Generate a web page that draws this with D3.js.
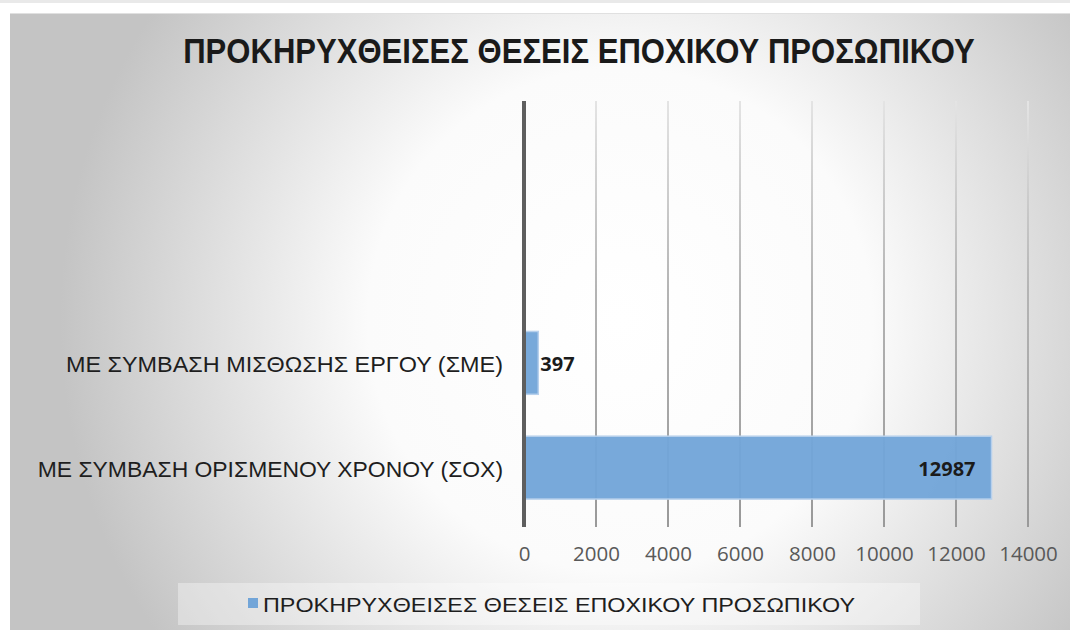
<!DOCTYPE html>
<html>
<head>
<meta charset="utf-8">
<script src="https://cdn.jsdelivr.net/npm/d3@7"></script>
<style>
  body { margin: 0; background: #fff; }
  svg { display: block; }
</style>
</head>
<body>
<script>
// chart data
var chartTitle = "ΠΡΟΚΗΡΥΧΘΕΙΣΕΣ ΘΕΣΕΙΣ ΕΠΟΧΙΚΟΥ ΠΡΟΣΩΠΙΚΟΥ";
var seriesName = "ΠΡΟΚΗΡΥΧΘΕΙΣΕΣ ΘΕΣΕΙΣ ΕΠΟΧΙΚΟΥ ΠΡΟΣΩΠΙΚΟΥ";
// two blank rows sit at the top of the category axis in the original
var categories = ["", " ", "ΜΕ ΣΥΜΒΑΣΗ ΜΙΣΘΩΣΗΣ ΕΡΓΟΥ (ΣΜΕ)", "ΜΕ ΣΥΜΒΑΣΗ ΟΡΙΣΜΕΝΟΥ ΧΡΟΝΟΥ (ΣΟΧ)"];
var values = [null, null, 397, 12987];
var tickValues = [0, 2000, 4000, 6000, 8000, 10000, 12000, 14000];

var width = 1070, height = 630;
var plotLeft = 524, plotRight = 1028, plotTop = 101, plotBottom = 520;
var barColor = "#72a5d8";

var svg = d3.select("body").append("svg")
  .attr("width", width)
  .attr("height", height);

var defs = svg.append("defs");
var bg = defs.append("radialGradient")
  .attr("id", "bgGrad")
  .attr("gradientUnits", "userSpaceOnUse")
  .attr("cx", 620).attr("cy", 320).attr("r", 560);
bg.append("stop").attr("offset", "0%").attr("stop-color", "#ffffff");
bg.append("stop").attr("offset", "45%").attr("stop-color", "#fbfbfb");
bg.append("stop").attr("offset", "100%").attr("stop-color", "#c4c4c4");

var gridGrad = defs.append("linearGradient")
  .attr("id", "gridGrad")
  .attr("gradientUnits", "userSpaceOnUse")
  .attr("x1", 0).attr("y1", plotTop).attr("x2", 0).attr("y2", plotBottom);
gridGrad.append("stop").attr("offset", "0%").attr("stop-color", "#e4e4e4");
gridGrad.append("stop").attr("offset", "45%").attr("stop-color", "#b4b4b4");
gridGrad.append("stop").attr("offset", "100%").attr("stop-color", "#9a9a9a");

// page top strip
svg.append("rect").attr("x", 0).attr("y", 0).attr("width", width).attr("height", 3).attr("fill", "#e9e9e9");

// chart area
svg.append("rect")
  .attr("x", 10).attr("y", 13)
  .attr("width", width - 10).attr("height", height - 13)
  .attr("fill", "url(#bgGrad)");
svg.append("line")
  .attr("x1", 10).attr("x2", width).attr("y1", 13.5).attr("y2", 13.5)
  .attr("stroke", "#e0e0e0");

var x = d3.scaleLinear().domain([0, 14000]).range([plotLeft, plotRight]);
var y = d3.scaleBand().domain(categories).range([plotTop, plotBottom]).paddingInner(0.4).paddingOuter(0.2);

// gridlines
svg.append("g")
  .selectAll("line")
  .data(tickValues.slice(1))
  .enter().append("line")
  .attr("x1", d => x(d)).attr("x2", d => x(d))
  .attr("y1", plotTop).attr("y2", plotBottom + 7)
  .attr("stroke", "url(#gridGrad)")
  .attr("stroke-width", 2);

// bars
var barData = categories.map((c, i) => ({ cat: c, val: values[i] })).filter(d => d.val != null);
svg.append("g")
  .selectAll("rect")
  .data(barData)
  .enter().append("rect")
  .attr("x", x(0))
  .attr("y", d => y(d.cat))
  .attr("width", d => x(d.val) - x(0))
  .attr("height", y.bandwidth())
  .attr("fill", barColor)
  .attr("fill-opacity", 0.96)
  .attr("stroke", "#b7d0ec")
  .attr("stroke-width", 1.5);

// zero axis line
svg.append("line")
  .attr("x1", x(0)).attr("x2", x(0))
  .attr("y1", plotTop).attr("y2", plotBottom + 7)
  .attr("stroke", "#5e5e5e")
  .attr("stroke-width", 4);

// x axis labels
var xAxis = d3.axisBottom(x).tickValues(tickValues).tickSize(0).tickPadding(0).tickFormat(d3.format("d"));
var xg = svg.append("g").attr("transform", "translate(0," + (plotBottom + 34) + ")").call(xAxis);
xg.select(".domain").remove();
xg.selectAll("text")
  .attr("font-family", "'Open Sans', 'Noto Sans', sans-serif")
  .attr("font-size", 20.5)
  .attr("fill", "#595959")
  .attr("dy", "0.36em");

// category labels
var yAxis = d3.axisLeft(y).tickSize(0).tickPadding(21);
var yg = svg.append("g").attr("transform", "translate(" + plotLeft + ",0)").call(yAxis);
yg.select(".domain").remove();
yg.selectAll("text")
  .attr("font-family", "'Liberation Sans', Arial, sans-serif")
  .attr("font-size", 22)
  .attr("fill", "#1e1e1e")
  .attr("dy", "0.42em")
  .attr("lengthAdjust", "spacingAndGlyphs")
  .attr("textLength", d => d.trim() ? d.length * 14.1 : null);

// data labels
svg.append("g")
  .selectAll("text")
  .data(barData)
  .enter().append("text")
  .attr("x", d => d.val > 3000 ? x(d.val) - 16 : x(d.val) + 2)
  .attr("y", d => y(d.cat) + y.bandwidth() / 2)
  .attr("dy", "0.4em")
  .attr("text-anchor", d => d.val > 3000 ? "end" : "start")
  .attr("font-family", "'Open Sans', 'Noto Sans', sans-serif")
  .attr("font-weight", "bold")
  .attr("font-size", 20)
  .attr("fill", "#1b1b1b")
  .text(d => d.val);

// title: condensed look by squeezing horizontally to the reference width
var title = svg.append("text")
  .attr("x", 0).attr("y", 0)
  .attr("text-anchor", "middle")
  .attr("font-family", "'Liberation Sans', Arial, sans-serif")
  .attr("font-weight", "bold")
  .attr("font-size", 35)
  .attr("fill", "#1a1a1a")
  .text(chartTitle);
var titleW = title.node().getComputedTextLength();
title.attr("transform", "translate(579,63) scale(" + (792 / titleW) + ",1)");

// legend
svg.append("rect")
  .attr("x", 178).attr("y", 583).attr("width", 742).attr("height", 42)
  .attr("fill", "#ffffff").attr("fill-opacity", 0.35);
svg.append("rect")
  .attr("x", 248).attr("y", 598).attr("width", 10).attr("height", 10)
  .attr("fill", barColor);
svg.append("text")
  .attr("x", 263).attr("y", 604)
  .attr("dy", "0.36em")
  .attr("font-family", "'Liberation Sans', Arial, sans-serif")
  .attr("font-size", 21)
  .attr("textLength", 592)
  .attr("lengthAdjust", "spacingAndGlyphs")
  .attr("fill", "#1e1e1e")
  .text(seriesName);
</script>
</body>
</html>
